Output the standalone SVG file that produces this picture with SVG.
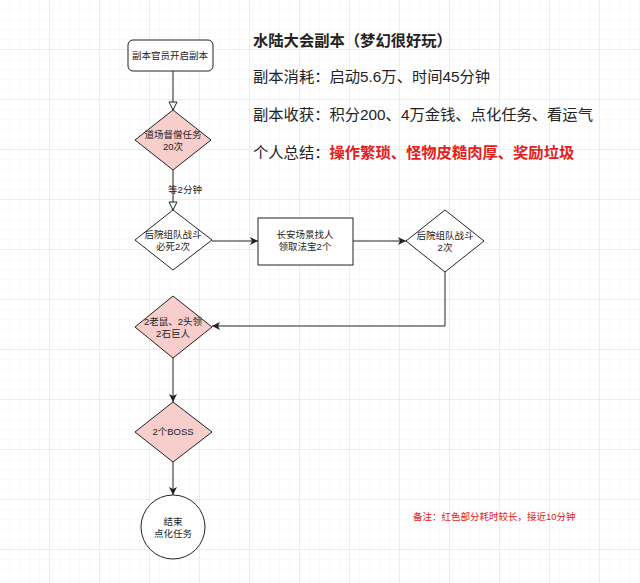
<svg xmlns="http://www.w3.org/2000/svg" width="640" height="583" viewBox="0 0 640 583">
<style>
text{font-family:"Liberation Sans","Noto Sans CJK SC",sans-serif;fill:#222}
.s{font-size:9.5px;text-anchor:middle}
.b{font-size:15.3px}
.n{stroke:#222;stroke-width:1}
.r{fill:#f8cecc}
.w{fill:#fff}
.c{fill:none;stroke:#222;stroke-width:1}
</style>
<defs>
<pattern id="g" width="10" height="10" patternUnits="userSpaceOnUse"><path d="M10 0V10H0" fill="none" stroke="#ececec" stroke-width="0.6"/></pattern>
<pattern id="G" width="50" height="50" patternUnits="userSpaceOnUse"><rect width="50" height="50" fill="url(#g)"/><path d="M50 0V50H0" fill="none" stroke="#dcdcdc" stroke-width="0.8"/></pattern>
<marker id="o" markerWidth="10" markerHeight="10" refX="9" refY="5" orient="auto" markerUnits="userSpaceOnUse"><path d="M1 1L9 5L1 9Z" fill="#fff" stroke="#222"/></marker>
<marker id="a" markerWidth="10" markerHeight="10" refX="9" refY="5" orient="auto" markerUnits="userSpaceOnUse"><path d="M1 1L9 5L1 9L3 5Z" fill="#222"/></marker>
</defs>
<rect width="640" height="583" fill="#fff"/>
<rect width="640" height="583" fill="url(#G)"/>
<g id="connectors">
<path class="c" d="M173 71V110" marker-end="url(#o)"/>
<path class="c" d="M173 170V210" marker-end="url(#o)"/>
<text class="s" x="185" y="193">等2分钟</text>
<path class="c" d="M212 241H258" marker-end="url(#a)"/>
<path class="c" d="M353 241H406" marker-end="url(#a)"/>
<path class="c" d="M445 272V326H212" marker-end="url(#a)"/>
<path class="c" d="M173 357V402" marker-end="url(#a)"/>
<path class="c" d="M173 462V495" marker-end="url(#a)"/>
</g>
<g id="n1"><rect class="n w" x="128" y="40" width="85" height="31" rx="5"/><text class="s" x="170" y="59">副本官员开启副本</text></g>
<g id="n2"><path class="n r" d="M173 110L211 140L173 170L135 140Z"/><text class="s" x="173" y="138">道场督僧任务</text><text class="s" x="173" y="150">20次</text></g>
<g id="n3"><path class="n w" d="M173 210L212 240L173 270L135 240Z"/><text class="s" x="173" y="238">后院组队战斗</text><text class="s" x="173" y="250">必死2次</text></g>
<g id="n4"><rect class="n w" x="258" y="218" width="95" height="47"/><text class="s" x="305" y="238">长安场景找人</text><text class="s" x="305" y="250">领取法宝2个</text></g>
<g id="n5"><path class="n w" d="M445 210L484 241L445 272L406 241Z"/><text class="s" x="445" y="239">后院组队战斗</text><text class="s" x="445" y="251">2次</text></g>
<g id="n6"><path class="n r" d="M173 296L212 327L173 358L135 327Z"/><text class="s" x="173" y="325">2老鼠、2头领</text><text class="s" x="173" y="337">2石巨人</text></g>
<g id="n7"><path class="n r" d="M173 402L212 432L173 462L135 432Z"/><text class="s" x="173" y="435">2个BOSS</text></g>
<g id="n8"><circle class="n w" cx="173" cy="527" r="32"/><text class="s" x="173" y="525">结束</text><text class="s" x="173" y="537">点化任务</text></g>
<g id="info">
<text class="b" x="253" y="46" font-weight="bold">水陆大会副本（梦幻很好玩）</text>
<text class="b" x="253" y="82">副本消耗：启动5.6万、时间45分钟</text>
<text class="b" x="253" y="120">副本收获：积分200、4万金钱、点化任务、看运气</text>
<text class="b" x="253" y="158">个人总结：<tspan font-weight="bold" style="fill:#e32020">操作繁琐、怪物皮糙肉厚、奖励垃圾</tspan></text>
<text x="413" y="520" style="font-size:9.5px;fill:#e32020">备注：红色部分耗时较长，接近10分钟</text>
</g>
</svg>
